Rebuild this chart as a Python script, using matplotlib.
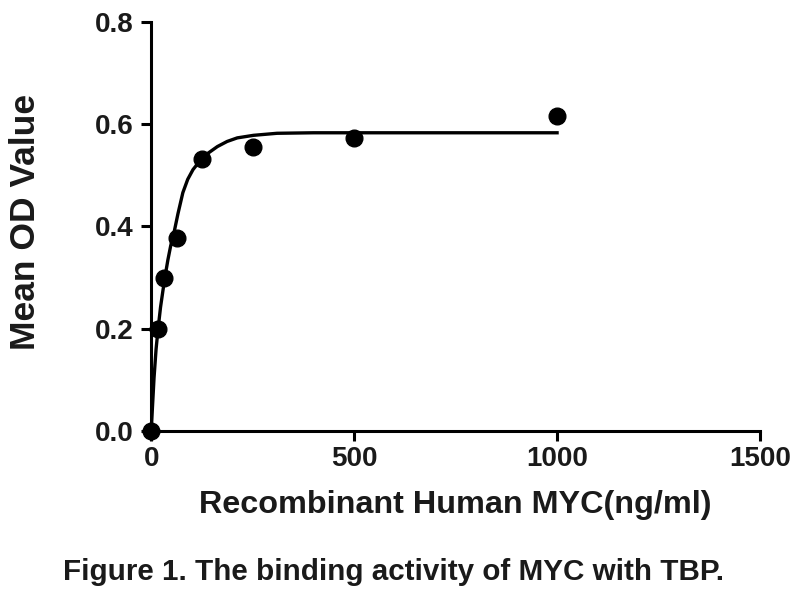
import matplotlib
matplotlib.use("Agg")
import matplotlib.pyplot as plt

plt.rcParams['font.family'] = ['Liberation Sans', 'DejaVu Sans']
plt.rcParams['font.weight'] = 'bold'

# measured points
conc = [0, 15.6, 31.25, 62.5, 125, 250, 500, 1000]
od = [0.0, 0.200, 0.300, 0.378, 0.532, 0.556, 0.572, 0.615]

# fitted curve
curve_x = [0, 3, 7, 12, 17, 23, 29, 35, 41, 48, 56, 66, 78, 90, 103, 122, 140, 163, 187, 212, 252, 310, 400, 600, 800, 1000]
curve_y = [0.0, 0.045, 0.104, 0.160, 0.200, 0.242, 0.275, 0.306, 0.334, 0.362, 0.387, 0.425, 0.466, 0.492, 0.511, 0.530, 0.543, 0.556, 0.566, 0.573, 0.578, 0.582, 0.583, 0.583, 0.583, 0.583]

x_ticks = [0, 500, 1000, 1500]
y_ticks = [0.0, 0.2, 0.4, 0.6, 0.8]

fig = plt.figure(figsize=(8, 6), dpi=100)
ax = fig.add_axes([0.189, 0.2817, 0.761, 0.682])

ax.plot(curve_x, curve_y, color='black', lw=2.4, clip_on=False, zorder=2)
ax.plot(conc, od, 'o', color='black', ms=12, clip_on=False, zorder=3)

ax.set_xlim(0, 1500)
ax.set_ylim(0, 0.8)
ax.set_xticks(x_ticks)
ax.set_xticklabels([str(t) for t in x_ticks])
ax.set_yticks(y_ticks)
ax.set_yticklabels([f"{t:.1f}" for t in y_ticks])

for s in ['top', 'right']:
    ax.spines[s].set_visible(False)
for s in ['left', 'bottom']:
    ax.spines[s].set_linewidth(2.2)
ax.tick_params(axis='both', direction='out', width=2.2, length=7, labelsize=20)
ax.tick_params(axis='y', pad=6)
ax.tick_params(axis='x', pad=4)
for lab in ax.get_xticklabels() + ax.get_yticklabels():
    lab.set_fontweight('bold')
    lab.set_color('#1a1a1a')

ax.set_xlabel('Recombinant Human MYC(ng/ml)', fontsize=23.3, fontweight='bold', color='#1a1a1a')
ax.xaxis.set_label_coords(0.499, -0.145)
ax.set_ylabel('Mean OD Value', fontsize=25.5, fontweight='bold', color='#1a1a1a')
ax.yaxis.set_label_coords(-0.18, 0.51)

fig.text(0.492, 0.047, 'Figure 1. The binding activity of MYC with TBP.',
         ha='center', va='center', fontsize=21.3, fontweight='bold', color='#1a1a1a')

fig.savefig('out.png', dpi=100)
